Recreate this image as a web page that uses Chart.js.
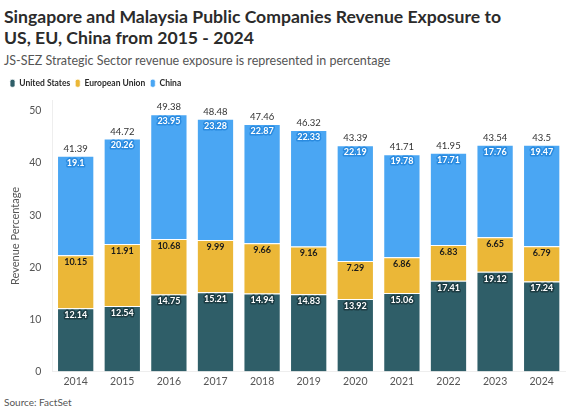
<!DOCTYPE html>
<html>
<head>
<meta charset="utf-8">
<script src="https://cdn.jsdelivr.net/npm/chart.js@4"></script>
<style>
  body { margin: 0; width: 580px; height: 413px; background: #fff; font-family: Lato, sans-serif; position: relative; overflow: hidden; }
  #title { position: absolute; left: 4px; top: 6px; font-size: 17.6px; font-weight: 700; color: #2b2b2b; line-height: 21px; white-space: nowrap; }
  #subtitle { position: absolute; left: 4px; top: 53px; font-size: 12.5px; color: #555; white-space: nowrap; }
  #source { position: absolute; left: 4px; top: 396px; font-size: 10px; color: #555; }
  #wrap { position: absolute; left: 0; top: 74px; width: 580px; height: 318px; }
</style>
</head>
<body>
<div id="title">Singapore and Malaysia Public Companies Revenue Exposure to<br>US, EU, China from 2015 - 2024</div>
<div id="subtitle">JS-SEZ Strategic Sector revenue exposure is represented in percentage</div>
<div id="wrap"><canvas id="chart"></canvas></div>
<div id="source">Source: FactSet</div>
<script>
const years = ['2014', '2015', '2016', '2017', '2018', '2019', '2020', '2021', '2022', '2023', '2024']
const unitedStates = [12.14, 12.54, 14.75, 15.21, 14.94, 14.83, 13.92, 15.06, 17.41, 19.12, 17.24]
const europeanUnion = [10.15, 11.91, 10.68, 9.99, 9.66, 9.16, 7.29, 6.86, 6.83, 6.65, 6.79]
const china = [19.1, 20.26, 23.95, 23.28, 22.87, 22.33, 22.19, 19.78, 17.71, 17.76, 19.47]
const totals = [41.39, 44.72, 49.38, 48.48, 47.46, 46.32, 43.39, 41.71, 41.95, 43.54, 43.5]
const yTicks = [0, 10, 20, 30, 40, 50]

// label styles per series: fill colour and halo colour
const labelStyles = [
  { fill: '#ffffff', halo: '#1d3c43' },
  { fill: '#1a1a1a', halo: null },
  { fill: '#ffffff', halo: '#2a8be0' }
]

const segmentLabels = {
  id: 'segmentLabels',
  afterDatasetsDraw(chart) {
    const ctx = chart.ctx
    ctx.save()
    ctx.textAlign = 'center'
    ctx.textBaseline = 'middle'
    ctx.lineJoin = 'round'
    chart.data.datasets.forEach((ds, i) => {
      const meta = chart.getDatasetMeta(i)
      const st = labelStyles[i]
      ctx.font = 'bold 9px Lato, sans-serif'
      meta.data.forEach((bar, j) => {
        const txt = String(ds.data[j])
        const y = bar.y + 7
        if (st.halo) {
          ctx.strokeStyle = st.halo
          ctx.lineWidth = 3
          ctx.strokeText(txt, bar.x, y)
        }
        ctx.fillStyle = st.fill
        ctx.fillText(txt, bar.x, y)
      })
    })
    // totals above the stacks
    const top = chart.getDatasetMeta(2)
    ctx.font = '9.5px Lato, sans-serif'
    ctx.fillStyle = '#333'
    top.data.forEach((bar, j) => {
      ctx.fillText(String(totals[j]), bar.x, bar.y - 7)
    })
    ctx.restore()
  }
}

// a little extra room under the legend
const legendGap = {
  id: 'legendGap',
  beforeInit(chart) {
    const fit = chart.legend.fit
    chart.legend.fit = function () {
      fit.bind(chart.legend)()
      this.height += 3
    }
  }
}

new Chart(document.getElementById('chart').getContext('2d'), {
  type: 'bar',
  data: {
    labels: years,
    datasets: [
      { label: 'United States', data: unitedStates, backgroundColor: '#2f5e68' },
      { label: 'European Union', data: europeanUnion, backgroundColor: '#ebb737' },
      { label: 'China', data: china, backgroundColor: '#4aa6f3' }
    ]
  },
  options: {
    responsive: true,
    maintainAspectRatio: false,
    animation: false,
    layout: { padding: { left: 5, right: 15, top: 0, bottom: 0 } },
    datasets: {
      bar: {
        borderColor: 'rgba(255,255,255,0.75)',
        borderWidth: 1,
        barPercentage: 0.8,
        categoryPercentage: 1
      }
    },
    plugins: {
      legend: {
        position: 'top',
        align: 'start',
        labels: {
          boxWidth: 5,
          boxHeight: 8,
          useBorderRadius: true,
          borderRadius: 2,
          padding: 5,
          color: '#2b2b2b',
          font: { family: 'Lato', size: 8.5, weight: 'bold' }
        }
      },
      tooltip: { enabled: false }
    },
    scales: {
      x: {
        stacked: true,
        grid: { display: false, drawTicks: false },
        border: { color: '#eeeeee' },
        ticks: { padding: 4, color: '#555', font: { family: 'Lato', size: 10.5 } }
      },
      y: {
        stacked: true,
        min: 0,
        max: 52,
        afterBuildTicks(axis) {
          axis.ticks = yTicks.map(v => ({ value: v }))
        },
        ticks: { color: '#555', font: { family: 'Lato', size: 10.5 } },
        grid: { display: false },
        border: { color: '#eeeeee' },
        title: {
          display: true,
          text: 'Revenue Percentage',
          color: '#555',
          font: { family: 'Lato', size: 11 }
        }
      }
    }
  },
  plugins: [segmentLabels, legendGap]
})
</script>
</body>
</html>
